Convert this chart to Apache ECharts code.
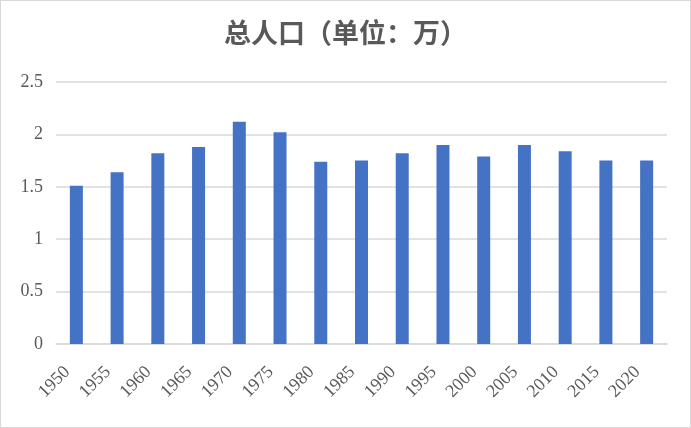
<!DOCTYPE html>
<html>
<head>
<meta charset="utf-8">
<script src="https://cdn.jsdelivr.net/npm/echarts@6/dist/echarts.min.js"></script>
<style>
html,body{margin:0;padding:0;background:#fff;}
#c{width:691px;height:428px;box-sizing:border-box;border:1px solid #d9d9d9;}
</style>
</head>
<body>
<div id="c"></div>
<script>
const title = '总人口（单位：万）';
const years = ['1950','1955','1960','1965','1970','1975','1980','1985','1990','1995','2000','2005','2010','2015','2020'];
const population = [1.51,1.64,1.82,1.88,2.12,2.02,1.74,1.75,1.82,1.90,1.79,1.90,1.84,1.75,1.75];
const yTicks = [0,0.5,1,1.5,2,2.5];

const chart = echarts.init(document.getElementById('c'), null, {renderer:'canvas'});
chart.setOption({
  animation:false,
  backgroundColor:'#fff',
  title:{
    text:title,
    left:'center',
    top:13,
    textStyle:{fontFamily:'Noto Sans CJK SC',fontWeight:'bold',fontSize:27,color:'#595959'}
  },
  grid:{left:55,right:23,top:81,bottom:83,containLabel:false},
  xAxis:{
    type:'category',
    data:years,
    axisLine:{lineStyle:{color:'#d9d9d9',width:1.5}},
    axisTick:{show:false},
    axisLabel:{rotate:45,interval:0,margin:16,padding:[0,13,0,0],fontFamily:'Liberation Serif',fontSize:18,color:'#595959'}
  },
  yAxis:{
    type:'value',
    min:yTicks[0],
    max:yTicks[yTicks.length-1],
    interval:0.5,
    axisLine:{show:false},
    axisTick:{show:false},
    splitLine:{lineStyle:{color:'#d9d9d9',width:1.5}},
    axisLabel:{margin:13,fontFamily:'Liberation Serif',fontSize:18,color:'#595959'}
  },
  series:[{
    type:'bar',
    data:population,
    barWidth:13,
    itemStyle:{color:'#4472C4'}
  }]
});
</script>
</body>
</html>
